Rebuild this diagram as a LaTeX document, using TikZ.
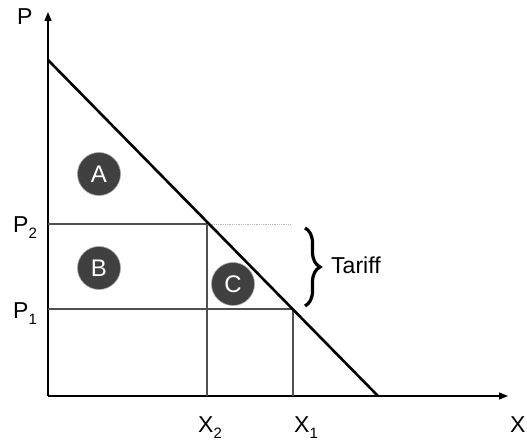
\documentclass[tikz,border=0pt]{standalone}
\usepackage{fontspec}
\setmainfont{Liberation Sans}
\usetikzlibrary{arrows.meta,decorations.pathreplacing}
\definecolor{circx}{HTML}{404040}
\definecolor{gridx}{HTML}{505050}
\definecolor{dotx}{HTML}{B4B4B4}
\tikzset{
  ax/.style={-{Triangle[length=9pt,width=7pt]},line width=1.4pt},
  lvl/.style={gridx,line width=1.2pt},
  area/.style={circle,fill=circx,draw=gray!70,line width=0.6pt,minimum size=43pt,inner sep=0pt,text=white,font=\fontsize{24}{28}\selectfont},
  lab/.style={font=\fontsize{23}{27}\selectfont,inner sep=0pt,anchor=base west}
}
\newcommand{\sbs}[1]{\raisebox{-6pt}{\fontsize{15}{17}\selectfont #1}}

\begin{document}
\begin{tikzpicture}[x=1pt,y=1pt]
\useasboundingbox (0,0) rectangle (527,441);
% axes
\coordinate (o) at (48,45);
\coordinate (ytop) at (48,429);
\coordinate (xend) at (508,45);
\draw[ax] (o)--(ytop);
\draw[ax] (o)--(xend);
% price levels
\coordinate (p2) at (48,217);
\coordinate (p1) at (48,132);
\coordinate (q2) at (207,217);
\coordinate (q1) at (293,132);
\coordinate (x2) at (207,45);
\coordinate (x1) at (293,45);
\coordinate (dotend) at (291,217);
\draw[lvl] (p2)--(q2);
\draw[lvl] (p1)--(q1);
\draw[lvl] (q2)--(x2);
\draw[lvl] (q1)--(x1);
\draw[dotx,densely dotted,line width=0.8pt] (q2)--(dotend);
% demand
\coordinate (dtop) at (48,381);
\coordinate (dbot) at (378,45);
\draw[line width=2.6pt] (dtop)--(dbot);
% areas
\node[area] (a) at (99,267) {A};
\node[area] (b) at (99,173) {B};
\node[area] (c) at (233,157) {C};
% tariff brace
\coordinate (btop) at (305,213);
\coordinate (bbot) at (305,135);
\draw[line width=3.2pt,decorate,decoration={brace,amplitude=15pt}] (btop)--(bbot);
\node[lab] (tariff) at (331,167) {Tariff};
% labels
\node[lab] (lp) at (17,416) {P};
\node[lab] (lp2) at (13,208) {P\sbs{2}};
\node[lab] (lp1) at (13,122) {P\sbs{1}};
\node[lab] (lx2) at (198,8) {X\sbs{2}};
\node[lab] (lx1) at (294,8) {X\sbs{1}};
\node[lab] (lx) at (510,8) {X};
\end{tikzpicture}
\end{document}
